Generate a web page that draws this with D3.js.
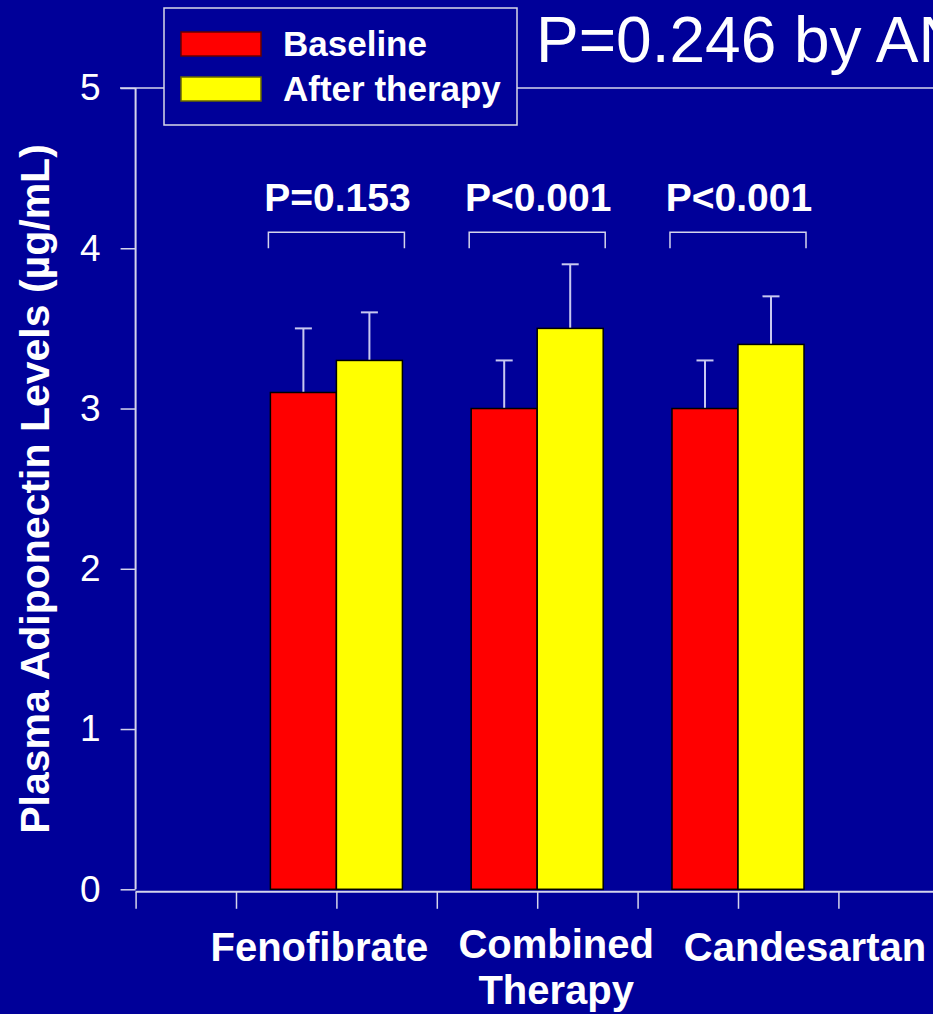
<!DOCTYPE html>
<html>
<head>
<meta charset="utf-8">
<script src="https://cdn.jsdelivr.net/npm/d3@7"></script>
<style>
  body { margin: 0; background: #000099; overflow: hidden; }
  svg { display: block; font-family: Arial, "Liberation Sans", sans-serif; }
</style>
</head>
<body>
<div class="chart"></div>
<script>
// Data
const groups = ['Fenofibrate', 'Combined Therapy', 'Candesartan'];
const baseline = [3.1, 3.0, 3.0];
const baselineErr = [0.4, 0.3, 0.3];
const afterTherapy = [3.3, 3.5, 3.4];
const afterErr = [0.3, 0.4, 0.3];
const pValues = ['P=0.153', 'P<0.001', 'P<0.001'];
const yTicks = [0, 1, 2, 3, 4, 5];
const seriesNames = ['Baseline', 'After therapy'];
const seriesColors = ['#ff0000', '#ffff00'];
const titleText = 'P=0.246 by ANOVA';
const yTitle = 'Plasma Adiponectin Levels (\u00b5g/mL)';

const width = 933;
const height = 1014;
const axisColor = '#d4d4ec';
const bg = '#000099';

const svg = d3.select('.chart')
    .append('svg')
    .attr('width', width)
    .attr('height', height);

svg.append('rect')
    .attr('width', width)
    .attr('height', height)
    .attr('fill', bg);

// Scales
const y = d3.scaleLinear().domain([0, 5]).range([889.3, 88]);
const xAxisScale = d3.scaleLinear().domain([0, 8]).range([135.6, 938.8]);

const x0 = d3.scaleBand()
    .domain(groups)
    .range([xAxisScale(1), xAxisScale(7)])
    .padding(0);

const x1 = d3.scaleBand()
    .domain(seriesNames)
    .range([0, x0.bandwidth()])
    .paddingInner(0)
    .paddingOuter(0.521);

// Top frame line (hidden behind legend)
svg.append('line')
    .attr('x1', 120).attr('x2', width)
    .attr('y1', y(5)).attr('y2', y(5))
    .attr('stroke', axisColor)
    .attr('stroke-width', 1.5);

// Y axis
const yAxis = svg.append('g')
    .attr('transform', `translate(${xAxisScale(0)},0)`)
    .call(d3.axisLeft(y).tickValues(yTicks).tickSize(15).tickPadding(20).tickFormat(d3.format('d')));

yAxis.select('.domain').attr('stroke', axisColor).attr('stroke-width', 2)
    .attr('d', `M0,${y(5)}V${y(0)}`);
yAxis.selectAll('.tick line').attr('stroke', axisColor).attr('stroke-width', 1.5);
yAxis.selectAll('.tick text')
    .attr('fill', 'white')
    .attr('font-size', 37)
    .attr('font-family', 'Arial, "Liberation Sans", sans-serif');

// X axis
const xAxis = svg.append('g')
    .attr('transform', `translate(0,${y(0) + 2.5})`)
    .call(d3.axisBottom(xAxisScale).ticks(8).tickSize(17).tickFormat(''));

xAxis.select('.domain').attr('stroke', axisColor).attr('stroke-width', 2)
    .attr('d', `M${xAxisScale(0)},0H${width}`);
xAxis.selectAll('.tick line').attr('stroke', axisColor).attr('stroke-width', 1.5);

// Bars
const barData = [];
groups.forEach((g, i) => {
    barData.push({group: g, series: seriesNames[0], value: baseline[i], err: baselineErr[i], color: seriesColors[0]});
    barData.push({group: g, series: seriesNames[1], value: afterTherapy[i], err: afterErr[i], color: seriesColors[1]});
});

// Error bars (drawn behind bars, upward only)
const errG = svg.append('g').attr('class', 'errors');
errG.selectAll('line.err')
    .data(barData)
    .join('line')
    .attr('class', 'err')
    .attr('x1', d => x0(d.group) + x1(d.series) + x1.bandwidth() / 2)
    .attr('x2', d => x0(d.group) + x1(d.series) + x1.bandwidth() / 2)
    .attr('y1', d => y(d.value))
    .attr('y2', d => y(d.value + d.err))
    .attr('stroke', '#c8c8f0')
    .attr('stroke-width', 2);

errG.selectAll('line.cap')
    .data(barData)
    .join('line')
    .attr('class', 'cap')
    .attr('x1', d => x0(d.group) + x1(d.series) + x1.bandwidth() / 2 - 8.5)
    .attr('x2', d => x0(d.group) + x1(d.series) + x1.bandwidth() / 2 + 8.5)
    .attr('y1', d => y(d.value + d.err))
    .attr('y2', d => y(d.value + d.err))
    .attr('stroke', '#c8c8f0')
    .attr('stroke-width', 2);

svg.append('g')
    .selectAll('rect')
    .data(barData)
    .join('rect')
    .attr('x', d => x0(d.group) + x1(d.series))
    .attr('y', d => y(d.value))
    .attr('width', x1.bandwidth())
    .attr('height', d => y(0) - y(d.value))
    .attr('fill', d => d.color)
    .attr('stroke', '#000')
    .attr('stroke-width', 1.5);

// Significance brackets
const brackets = svg.append('g');
groups.forEach((g, i) => {
    const left = x0(g) + x1(seriesNames[0]) - 2;
    const right = x0(g) + x1(seriesNames[1]) + x1.bandwidth() + 2;
    brackets.append('path')
        .attr('d', `M${left},${y(4)}V${y(4.1)}H${right}V${y(4)}`)
        .attr('fill', 'none')
        .attr('stroke', axisColor)
        .attr('stroke-width', 1.5);
    brackets.append('text')
        .attr('x', x0(g) + x0.bandwidth() / 2 + 1)
        .attr('y', y(4.23))
        .attr('text-anchor', 'middle')
        .attr('fill', 'white')
        .attr('font-weight', 'bold')
        .attr('font-size', 39)
        .text(pValues[i]);
});

// Category labels (text boxes sit off-centre in the original)
const labelShift = [-17, 19, 67];
groups.forEach((g, i) => {
    const words = g.split(' ');
    const t = svg.append('text')
        .attr('x', x0(g) + x0.bandwidth() / 2 + labelShift[i])
        .attr('y', words.length > 1 ? 958 : 961)
        .attr('text-anchor', 'middle')
        .attr('fill', 'white')
        .attr('font-weight', 'bold')
        .attr('font-size', 40);
    words.forEach((w, j) => {
        t.append('tspan')
            .attr('x', x0(g) + x0.bandwidth() / 2 + labelShift[i])
            .attr('dy', j === 0 ? 0 : 46)
            .text(w);
    });
});

// Y axis title
svg.append('text')
    .attr('transform', `translate(49,${(150 + 828) / 2}) rotate(-90)`)
    .attr('text-anchor', 'middle')
    .attr('fill', 'white')
    .attr('font-weight', 'bold')
    .attr('font-size', 41)
    .text(yTitle);

// Title
svg.append('text')
    .attr('x', 536)
    .attr('y', 62)
    .attr('fill', 'white')
    .attr('font-size', 64)
    .text(titleText);

// Legend
const legend = svg.append('g').attr('transform', 'translate(164,8)');
legend.append('rect')
    .attr('width', 353)
    .attr('height', 117)
    .attr('fill', bg)
    .attr('stroke', '#d8d8e8')
    .attr('stroke-width', 1.5);

const legendItem = legend.selectAll('g.item')
    .data(seriesNames)
    .join('g')
    .attr('class', 'item')
    .attr('transform', (d, i) => `translate(17,${24 + i * 45})`);

legendItem.append('rect')
    .attr('width', 80)
    .attr('height', 24)
    .attr('fill', (d, i) => seriesColors[i])
    .attr('stroke', (d, i) => i === 0 ? '#660000' : '#666600')
    .attr('stroke-width', 1.5);

legendItem.append('text')
    .attr('x', 102)
    .attr('y', 24)
    .attr('fill', 'white')
    .attr('font-weight', 'bold')
    .attr('font-size', 35)
    .text(d => d);
</script>
</body>
</html>
